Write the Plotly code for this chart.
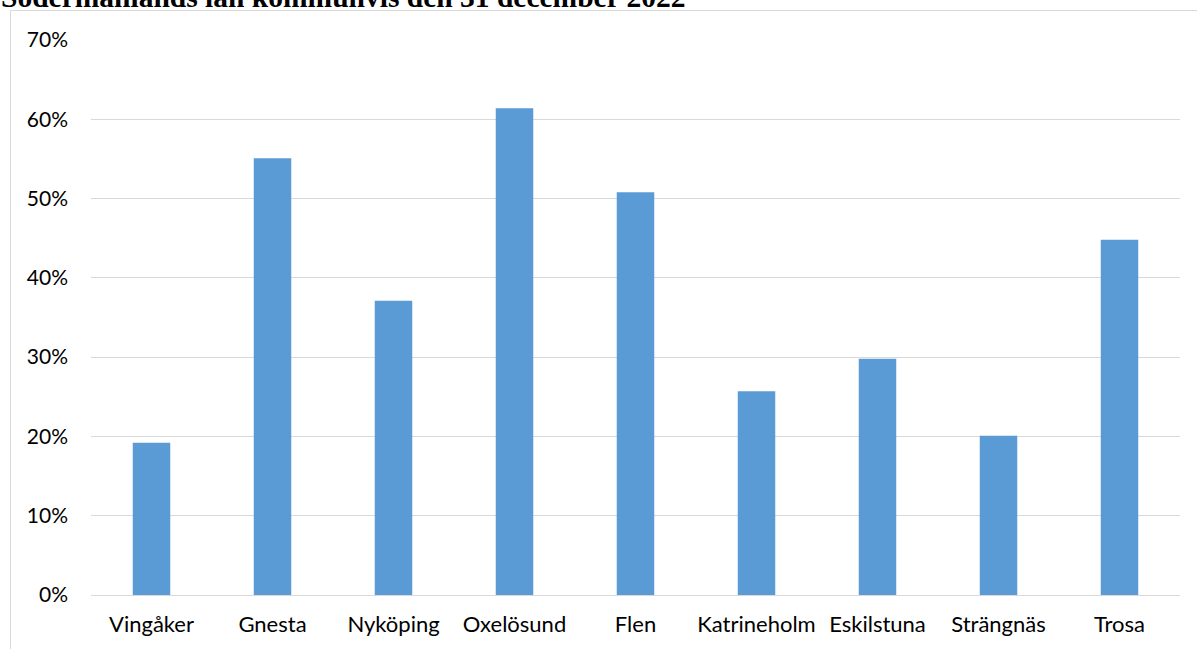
import plotly.graph_objects as go

categories = ["Vingåker", "Gnesta", "Nyköping", "Oxelösund", "Flen",
              "Katrineholm", "Eskilstuna", "Strängnäs", "Trosa"]
values = [0.192, 0.551, 0.371, 0.614, 0.508, 0.257, 0.298, 0.201, 0.448]
title_text = "Södermanlands län kommunvis den 31 december 2022"

W, H = 1197, 649
ML, MR, MT, MB = 91, 17, 40, 54
pw, ph = W - ML - MR, H - MT - MB

def px_x(x):
    return (x - ML) / pw

def px_y(y):
    return (H - MB - y) / ph

fig = go.Figure(go.Bar(x=categories, y=values, marker_color="#5B9BD5",
                       marker_line_width=0))

fig.update_layout(
    width=W, height=H,
    margin=dict(l=ML, r=MR, t=MT, b=MB),
    paper_bgcolor="white", plot_bgcolor="white",
    bargap=0.69,
    showlegend=False,
    font=dict(family="Lato, Open Sans, sans-serif", size=18, color="#000000"),
    xaxis=dict(showgrid=False, showline=False, zeroline=False,
               ticks="", ticklabelstandoff=14,
               tickfont=dict(size=22)),
    yaxis=dict(range=[0, 0.70], dtick=0.10, tickformat=".0%",
               showgrid=True, gridcolor="#D9D9D9", gridwidth=1,
               zeroline=True, zerolinecolor="#D9D9D9", zerolinewidth=1,
               showline=False, ticks="", ticklabelstandoff=22,
               tickfont=dict(size=21)),
    shapes=[
        dict(type="line", xref="paper", yref="paper",
             x0=px_x(10), x1=px_x(W + 5), y0=px_y(10.5), y1=px_y(10.5),
             line=dict(color="#D9D9D9", width=1)),
        dict(type="line", xref="paper", yref="paper",
             x0=px_x(10.5), x1=px_x(10.5), y0=px_y(10), y1=px_y(H + 5),
             line=dict(color="#D9D9D9", width=1)),
    ],
    annotations=[
        dict(text="<b>" + title_text + "</b>", xref="paper", yref="paper",
             x=px_x(-1), y=px_y(15.5), xanchor="left", yanchor="bottom",
             showarrow=False,
             font=dict(family="Liberation Serif, Times New Roman, serif",
                       size=29.5, color="#000000")),
    ],
)

fig.write_html("out.html", config={"displayModeBar": False},
               post_script="document.body.style.margin='0';document.body.style.overflow='hidden';")
